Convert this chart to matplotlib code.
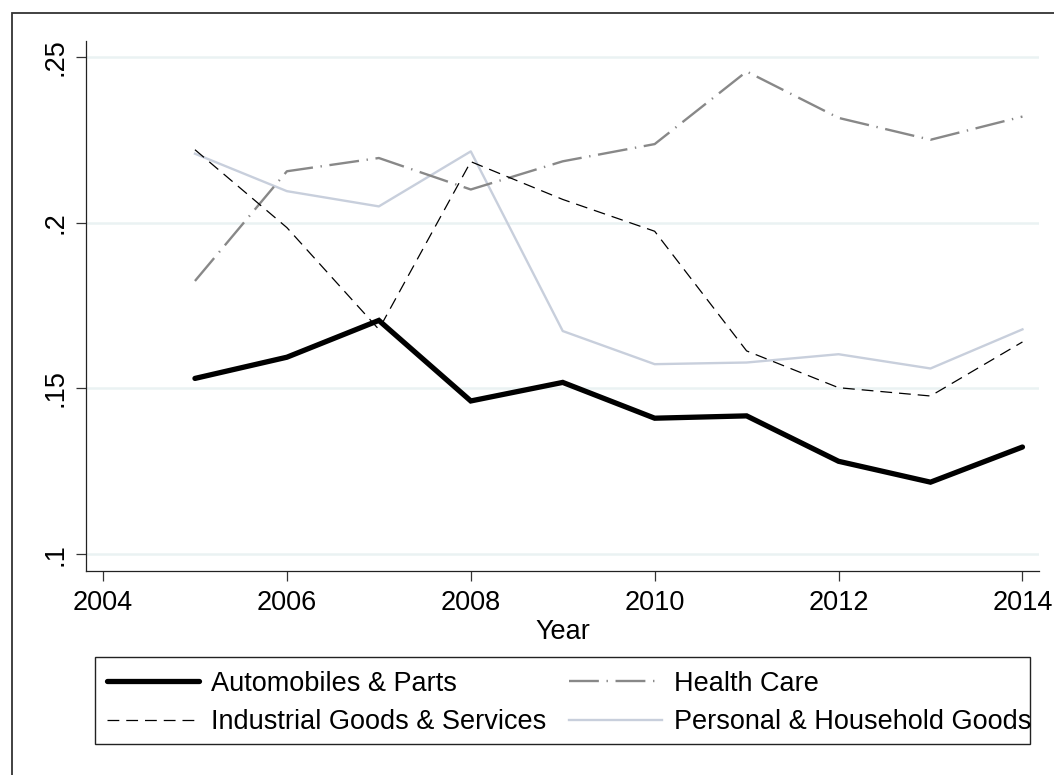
import matplotlib
matplotlib.use("Agg")
import matplotlib.pyplot as plt
from matplotlib.patches import Rectangle

plt.rcParams['font.family'] = ['Liberation Sans', 'DejaVu Sans']
plt.rcParams['lines.scale_dashes'] = False

years = [2005, 2006, 2007, 2008, 2009, 2010, 2011, 2012, 2013, 2014]
autos = [0.1530, 0.1594, 0.1705, 0.1462, 0.1518, 0.1410, 0.1417, 0.1280, 0.1217, 0.1323]
industrial = [0.2220, 0.1985, 0.1678, 0.2184, 0.2070, 0.1974, 0.1613, 0.1502, 0.1477, 0.1640]
health = [0.1824, 0.2155, 0.2195, 0.2100, 0.2185, 0.2237, 0.2456, 0.2316, 0.2250, 0.2320]
personal = [0.2208, 0.2095, 0.2049, 0.2215, 0.1673, 0.1573, 0.1578, 0.1603, 0.1560, 0.1678]

xticks = [2004, 2006, 2008, 2010, 2012, 2014]
yticks = [0.10, 0.15, 0.20, 0.25]
ylabels = ['.1', '.15', '.2', '.25']

FS = 19.5
W, H = 1054, 775
fig = plt.figure(figsize=(W / 100, H / 100), dpi=100)
fig.patch.set_facecolor('white')

# outer frame (runs off the right and bottom edges, as in the original)
fig.patches.append(Rectangle((12 / W, -0.05), 1.2, (H - 13) / H + 0.05,
                             transform=fig.transFigure, fill=False,
                             edgecolor='#333333', linewidth=1.3))
# legend box, drawn separately: the last label runs over its right edge
fig.patches.append(Rectangle((95 / W, (H - 744) / H), (1030 - 95) / W, (744 - 657) / H,
                             transform=fig.transFigure, fill=False,
                             edgecolor='#222222', linewidth=1.0, zorder=3))

ax = fig.add_axes([86 / W, (H - 571) / H, (1039 - 86) / W, (571 - 41) / H])

ax.plot(years, autos, color='black', linewidth=3.8, solid_capstyle='round',
        solid_joinstyle='miter', label='Automobiles & Parts', zorder=5)
ax.plot(years, industrial, color='black', linewidth=0.9,
        linestyle=(0, (8.5, 5)), label='Industrial Goods & Services', zorder=4)
ax.plot(years, health, color='#888888', linewidth=1.7,
        linestyle=(0, (21.5, 5.5, 1, 5.5)), label='Health Care', zorder=3)
ax.plot(years, personal, color='#c8cfdc', linewidth=1.7,
        label='Personal & Household Goods', zorder=2)

ax.set_xlim(2003.815, 2014.18)
ax.set_ylim(0.0949, 0.2548)
ax.set_xticks(xticks)
ax.set_yticks(yticks)
ax.set_yticklabels(ylabels, rotation=90, va='center')
ax.tick_params(axis='both', labelsize=FS, length=7.5, width=0.9, color='#333333')
ax.tick_params(axis='y', pad=5)
ax.tick_params(axis='x', pad=6)
ax.yaxis.grid(True, color='#eaf2f3', linewidth=1.8)
ax.set_axisbelow(True)
for side in ['top', 'right']:
    ax.spines[side].set_visible(False)
for side in ['left', 'bottom']:
    ax.spines[side].set_linewidth(0.9)
    ax.spines[side].set_color('#222222')

ax.set_xlabel('Year', fontsize=FS, labelpad=2)

handles, labels = ax.get_legend_handles_labels()
leg = fig.legend(handles, labels,
                 loc='upper left', bbox_to_anchor=(95 / W, (H - 659) / H),
                 ncol=2, fontsize=FS, frameon=False,
                 handlelength=3.4, handletextpad=0.45, columnspacing=0.85,
                 borderpad=0.44, labelspacing=0.45, borderaxespad=0)

fig.savefig('out.png', dpi=100)
